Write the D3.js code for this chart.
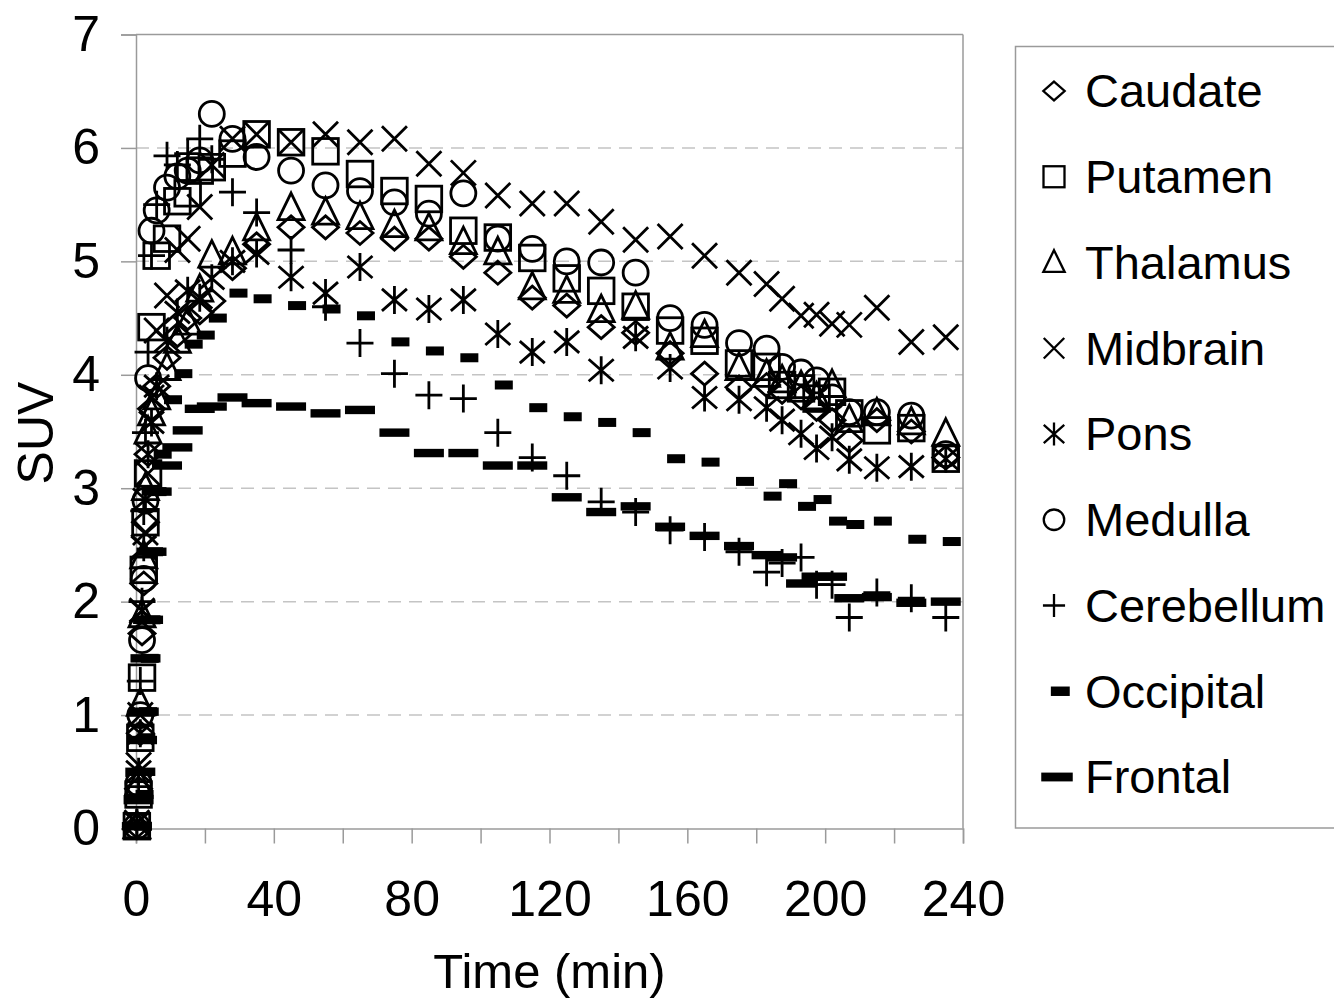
<!DOCTYPE html>
<html><head><meta charset="utf-8">
<script src="https://cdn.jsdelivr.net/npm/d3@7"></script>
<style>
body{margin:0;background:#fff}
text{font-family:"Liberation Sans",Arial,sans-serif;fill:#000}
</style>
</head><body>
<svg id="chart" width="1334" height="1000"></svg>
<script>
// ---- data (time in minutes, SUV values) ----
const times = [0.25,0.75,1.25,1.75,2.25,2.75,3.5,4.5,6,9,12,15,18.5,22,28,35,45,55,65,75,85,95,105,115,125,135,145,155,165,175,183,187.5,193,197.5,202,207,215,225,235];

const caudate    = [0.02,0.35,0.84,1.72,2.16,2.7,3.3,3.7,3.9,4.15,4.35,4.5,4.55,4.65,4.94,5.15, 5.3,5.3,5.25,5.2,5.2,5.04,4.9,4.68,4.61,4.42,4.37,4.19,4.01,3.89,3.91,3.85,3.8,3.7,3.6,3.42,3.6,3.5,3.27];
const putamen    = [0.02,0.3,0.8,1.33,2.28,2.7,3.13,4.42,5.05,5.2,5.53,5.6,5.8,5.83,5.95,6.12, 6.05,5.97,5.77,5.62,5.55,5.27,5.21,5.03,4.85,4.74,4.6,4.39,4.3,4.1,4.07,3.91,3.88,3.79,3.85,3.66,3.51,3.53,3.26];
const thalamus   = [0.02,0.4,1.1,1.88,2.4,3.0,3.5,3.66,3.8,4.06,4.3,4.46,4.75,5.05,5.08,5.29, 5.47,5.43,5.39,5.32,5.29,5.17,5.08,4.77,4.74,4.57,4.6,4.24,4.35,4.06,4.0,3.95,3.9,3.8,3.91,3.6,3.66,3.58,3.48];
const midbrain   = [0.05,0.56,1.0,1.92,2.48,2.61,3.13,3.8,4.39,4.7,5.1,5.2,5.48,5.85,6.08,6.12, 6.05,6.12,6.05,6.08,5.86,5.78,5.58,5.51,5.51,5.35,5.19,5.22,5.05,4.9,4.8,4.67,4.52,4.53,4.45,4.44,4.59,4.29,4.33];
const pons       = [0.05,0.5,0.84,1.92,2.48,2.9,3.3,3.58,3.9,4.3,4.55,4.74,4.68,4.85,5.0,5.07, 4.86,4.72,4.95,4.66,4.58,4.66,4.36,4.2,4.29,4.04,4.33,4.06,3.8,3.78,3.71,3.6,3.48,3.35,3.45,3.25,3.18,3.19,3.26];
const medulla    = [0.02,0.4,1.0,1.66,2.2,2.89,3.97,5.27,5.45,5.65,5.75,5.8,5.89,6.3,6.08,5.92, 5.8,5.67,5.62,5.52,5.42,5.6,5.2,5.11,5.0,4.99,4.9,4.5,4.44,4.28,4.23,4.07,4.02,3.95,3.8,3.67,3.67,3.64,3.3];
const cerebellum = [0.05,0.37,1.3,2.0,2.8,3.49,4.2,5.05,5.5,5.93,5.85,5.95,6.08,5.9,5.61,5.43, 5.1,4.6,4.28,4.01,3.82,3.79,3.49,3.27,3.11,2.88,2.79,2.63,2.57,2.44,2.26,2.34,2.39,2.15,2.15,1.86,2.08,2.03,1.86];
const occipital  = [0.02,0.3,0.8,1.03,1.5,1.84,2.44,2.97,3.3,3.78,4.01,4.27,4.35,4.5,4.72,4.67, 4.61,4.58,4.52,4.29,4.21,4.15,3.91,3.71,3.63,3.58,3.49,3.26,3.23,3.06,2.93,3.04,2.84,2.9,2.71,2.68,2.71,2.55,2.53];
const frontal    = [0.02,0.25,0.5,0.78,1.03,1.5,1.84,2.44,2.97,3.2,3.36,3.51,3.7,3.72,3.8,3.75, 3.72,3.66,3.69,3.49,3.31,3.31,3.2,3.2,2.92,2.79,2.84,2.66,2.58,2.49,2.41,2.39,2.16,2.22,2.22,2.03,2.04,1.99,2.0];

const seriesNames  = ["Caudate","Putamen","Thalamus","Midbrain","Pons","Medulla","Cerebellum","Occipital","Frontal"];
const seriesValues = [caudate,putamen,thalamus,midbrain,pons,medulla,cerebellum,occipital,frontal];
const markerTypes  = ["diamond","square","triangle","x","star","circle","plus","dash","bar"];

const yTicks = [0,1,2,3,4,5,6,7];
const xTickLabels = [0,40,80,120,160,200,240];
const xMinorTicks = [0,20,40,60,80,100,120,140,160,180,200,220,240];

// ---- drawing ----
const svg = d3.select("#chart");
const L = 136, R = 963, T = 34.5, B = 828.5;
const x = d3.scaleLinear().domain([0,240]).range([L,R]);
const y = d3.scaleLinear().domain([0,7]).range([B,T]);
const axisCol = "#9a9a9a";

// gridlines (dashed)
svg.append("g").selectAll("line").data(yTicks.filter(v=>v>0 && v<7)).join("line")
  .attr("x1",L).attr("x2",R).attr("y1",d=>y(d)).attr("y2",d=>y(d))
  .attr("stroke","#c4c4c4").attr("stroke-width",1.5).attr("stroke-dasharray","13,8");
// top and right border
svg.append("line").attr("x1",L).attr("x2",R).attr("y1",y(7)).attr("y2",y(7)).attr("stroke",axisCol).attr("stroke-width",1.5);
svg.append("line").attr("x1",R).attr("x2",R).attr("y1",y(7)).attr("y2",B).attr("stroke",axisCol).attr("stroke-width",1.5);

// y axis
const yAxis = svg.append("g").attr("transform",`translate(${L},0)`)
  .call(d3.axisLeft(y).tickValues(yTicks).tickSize(15).tickPadding(21).tickFormat(d3.format("d")));
yAxis.select(".domain").attr("stroke",axisCol).attr("stroke-width",1.5);
yAxis.selectAll(".tick line").attr("stroke",axisCol).attr("stroke-width",1.5);
yAxis.selectAll("text").attr("font-size",50).attr("font-family","Liberation Sans, Arial, sans-serif").attr("fill","#000");

// x axis
const xAxis = svg.append("g").attr("transform",`translate(0,${B})`)
  .call(d3.axisBottom(x).tickValues(xMinorTicks).tickSize(15).tickPadding(37)
    .tickFormat(d => xTickLabels.includes(d) ? d : ""));
xAxis.select(".domain").attr("stroke",axisCol).attr("stroke-width",1.5);
xAxis.selectAll(".tick line").attr("stroke",axisCol).attr("stroke-width",1.5);
xAxis.selectAll("text").attr("font-size",50).attr("font-family","Liberation Sans, Arial, sans-serif").attr("fill","#000");

// axis titles
svg.append("text").attr("x",(L+R)/2).attr("y",988).attr("text-anchor","middle")
  .attr("font-size",49).text("Time (min)");
svg.append("text").attr("transform","translate(53,433) rotate(-90)").attr("text-anchor","middle")
  .attr("font-size",50).text("SUV");

// marker drawing
function drawMarker(g, type, s, swBase) {
  const sw = swBase;
  const st = el => el.attr("fill","none").attr("stroke","#000").attr("stroke-width",sw);
  switch(type){
    case "diamond": st(g.append("path").attr("d",`M0,${-11.5*s}L${13*s},0L0,${11.5*s}L${-13*s},0Z`)); break;
    case "square": st(g.append("rect").attr("x",-12.8*s).attr("y",-12.8*s).attr("width",25.6*s).attr("height",25.6*s)); break;
    case "triangle": st(g.append("path").attr("d",`M0,${-15*s}L${13*s},${11.5*s}L${-13*s},${11.5*s}Z`)); break;
    case "x": st(g.append("path").attr("d",`M${-12.5*s},${-12.5*s}L${12.5*s},${12.5*s}M${12.5*s},${-12.5*s}L${-12.5*s},${12.5*s}`)); break;
    case "star": st(g.append("path").attr("d",`M${-12.5*s},${-11*s}L${12.5*s},${11*s}M${12.5*s},${-11*s}L${-12.5*s},${11*s}M0,${-14*s}L0,${14*s}`)); break;
    case "circle": st(g.append("circle").attr("r",12.5*s)); break;
    case "plus": st(g.append("path").attr("d",`M${-13.5*s},0L${13.5*s},0M0,${-14*s}L0,${14*s}`)); break;
    case "dash": g.append("rect").attr("x",6*s-9*s).attr("y",-4.5*s).attr("width",18*s).attr("height",9*s).attr("fill","#000"); break;
    case "bar": g.append("rect").attr("x",-15*s).attr("y",-4.2*s).attr("width",30*s).attr("height",8.4*s).attr("fill","#000"); break;
  }
}

// series
seriesValues.forEach((vals,i)=>{
  const g = svg.append("g").attr("class","series-"+seriesNames[i]);
  const pts = times.map((t,j)=>({t, v: vals[j]})).filter(d=>d.v!=null);
  g.selectAll("g").data(pts).join("g")
    .attr("transform",d=>`translate(${x(d.t)},${y(d.v)})`)
    .each(function(){ drawMarker(d3.select(this), markerTypes[i], 1, 2.8); });
});

// legend
const lg = svg.append("g");
lg.append("rect").attr("x",1015.5).attr("y",46.5).attr("width",340).attr("height",781.5)
  .attr("fill","#fff").attr("stroke",axisCol).attr("stroke-width",1.5);
seriesNames.forEach((name,i)=>{
  const cy = 91 + i*85.75;
  const t = markerTypes[i];
  const mg = lg.append("g").attr("transform",`translate(${t==="bar"?1057:1054},${cy})`);
  drawMarker(mg, t, (t==="bar"||t==="dash") ? 1.05 : 0.82, 2.3);
  lg.append("text").attr("x",1085).attr("y",cy).attr("dy","0.35em").attr("font-size",47).text(name);
});
</script>
</body></html>
